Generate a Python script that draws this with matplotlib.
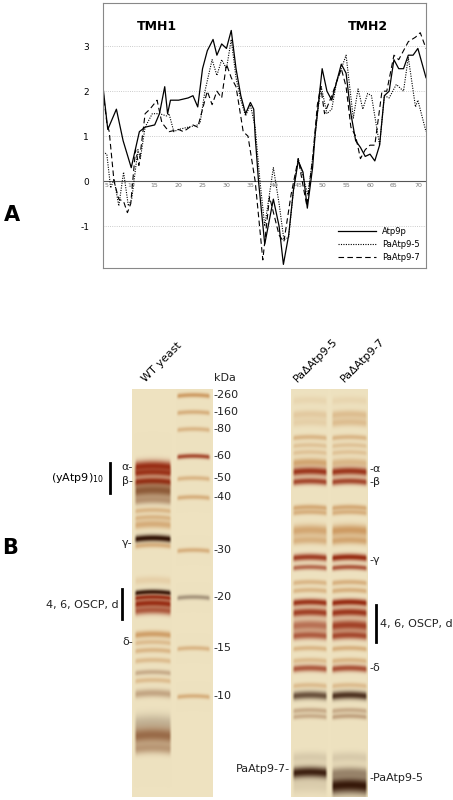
import numpy as np
import matplotlib
matplotlib.use("Agg")
import matplotlib.pyplot as plt

# ---------------- Panel A data (hydropathy) ----------------
atp9p_x = [4.2,5.2,7,8.4,10.1,11.8,13,15,16,17.1,17.7,18.3,20,22,23,24,25,26,27.2,28,29,30,31,32,33,34,35,35.7,36,36.7,38,39.8,41,41.9,43,44,45,46,46.9,48,48.5,49.5,50,51,52,53,54,55,56,57,58,59,60,61,62,63,64,65,66,67,68,69,70,71.7]
atp9p_y = [2.1,1.15,1.6,0.9,0.3,1.1,1.2,1.25,1.5,2.1,1.5,1.8,1.8,1.85,1.9,1.65,2.5,2.9,3.15,2.8,3.05,2.95,3.35,2.5,1.9,1.5,1.75,1.6,1.0,0.0,-1.4,-0.4,-1.0,-1.85,-1.2,-0.2,0.45,0.2,-0.6,0.3,1.0,2.0,2.5,2.0,1.8,2.2,2.6,2.4,1.5,0.9,0.75,0.55,0.6,0.45,0.8,1.9,2.0,2.7,2.5,2.5,2.8,2.8,2.95,2.3]
pa5_x = [4.2,5,5.8,6.5,7.5,8.5,9.5,10.2,11.5,12,13,14.5,16,17.5,18,19,20,22,24,24.5,25.5,27,28,29,30,31,32,33,34,35,36,37,38,39.8,41,42,43,44,45,46,47,48,49,49.8,51,52,53,54,55,56.5,57.5,58.5,59.5,60.3,62,63,64,65.5,67,68,69.5,70,71.7]
pa5_y = [0.65,0.6,-0.15,0.05,-0.55,0.2,-0.55,-0.4,0.7,0.5,1.2,1.5,1.5,1.45,1.5,1.1,1.15,1.2,1.25,1.3,2.0,2.7,2.35,2.7,2.5,3.15,2.3,1.8,1.45,1.7,1.2,0.0,-1.0,0.3,-0.5,-1.3,-1.25,-0.2,0.5,0.1,-0.3,0.5,1.5,2.1,1.5,1.6,2.2,2.5,2.8,1.4,2.05,1.6,1.95,1.9,0.8,1.9,1.85,2.15,2.0,2.75,1.65,1.8,1.1]
pa7_x = [4.2,5,5.5,6.5,7.5,8.5,9.3,10,11,11.7,13,14,15.5,16.5,18,20,21,23,24,25,26,27,28,29,30,31,32,33.5,34.5,36,37.6,39,41,42,43.5,45,46,46.8,48,49,49.7,50.5,52,54,55,56,57,58,59,60,61,62.5,63.5,65,66,68,69.5,70.5,71.7]
pa7_y = [2.0,1.3,1.1,0.0,-0.4,-0.45,-0.7,-0.5,0.7,0.35,1.5,1.6,1.8,1.3,1.1,1.15,1.1,1.25,1.2,1.6,2.0,1.7,2.0,1.85,2.6,2.3,2.1,1.1,1.0,0.0,-1.75,-0.35,-1.2,-1.35,-0.3,0.5,-0.1,-0.55,0.5,1.7,2.1,1.5,1.9,2.5,2.1,1.2,1.0,0.5,0.7,0.8,0.8,2.0,2.0,2.8,2.7,3.1,3.2,3.3,2.95]
x_ticks = [5,10,15,20,25,30,35,40,45,50,55,60,65,70]
y_ticks = [-1,0,1,2,3]
series_names = ["Atp9p", "PaAtp9-5", "PaAtp9-7"]

# ---------------- Panel B data (gel bands) ----------------
ladder_kda = ["260","160","80","60","50","40","30","20","15","10"]
ladder_y = [395,412,429,456,478,497,550,597,648,696]
ladder_str = [0.55,0.4,0.35,0.75,0.35,0.4,0.4,0.6,0.35,0.4]
wt_bands = [(466,4,0.95,'r'),(472,3,0.9,'r'),(481,3,0.95,'r'),(490,5,0.8,'b'),(500,3,0.4,'b'),
            (510,2,0.35,'o'),(517,2,0.35,'o'),(524,3,0.45,'o'),(538,2.5,1.0,'k'),(545,2,0.4,'o'),
            (580,3,0.15,'o'),(592,2,0.95,'k'),(597,2,0.9,'r'),(603,3,0.95,'r'),(610,3,0.7,'r'),
            (634,2.5,0.55,'o'),(642,2,0.3,'o'),(650,2,0.35,'o'),(660,2,0.3,'o'),(672,2,0.3,'b'),
            (680,2,0.3,'o'),(693,3,0.35,'b'),(722,6,0.35,'g'),(735,6,0.7,'b'),(748,4,0.4,'b')]
pa_bands = [(400,3,0.1,0.1,'o'),(414,3,0.2,0.3,'o'),(422,3,0.15,0.3,'o'),(437,2,0.35,0.35,'o'),
            (445,2,0.25,0.25,'o'),(452,2,0.25,0.25,'o'),(462,3,0.5,0.35,'o'),(471,3,0.9,0.9,'r'),
            (481,2.5,0.8,0.8,'r'),(507,2,0.45,0.45,'o'),(512,2,0.4,0.4,'o'),(530,4,0.5,0.6,'o'),
            (540,3,0.4,0.5,'o'),(557,2.5,0.85,0.95,'r'),(567,2,0.6,0.7,'r'),(582,2,0.35,0.4,'o'),
            (590,2,0.35,0.4,'o'),(602,2.5,0.9,0.95,'r'),(612,3,0.85,0.9,'r'),(625,4,0.6,0.85,'r'),
            (635,3,0.7,0.8,'r'),(648,2,0.35,0.4,'o'),(660,2,0.3,0.35,'o'),(668,2.5,0.7,0.75,'r'),
            (685,2,0.3,0.3,'o'),(695,3,0.7,0.85,'k'),(710,2,0.3,0.3,'b'),(716,2,0.3,0.35,'b'),
            (757,4,0.2,0.2,'g'),(772,4,0.95,0.4,'k'),(785,6,0.1,1.0,'k')]

colours = {'r': (150,40,15), 'o': (185,110,40), 'b': (120,60,25), 'k': (55,25,10), 'g': (130,110,90)}
bg = np.array([238,226,192], float)

def render(y0, y1, x0, x1, lanes):
    H = int(y1 - y0); W = int(x1 - x0)
    img = np.tile(bg, (H, W, 1))
    ys = np.arange(H) + y0 + 0.5
    xs = np.arange(W) + x0 + 0.5
    for (lx0, lx1, bands) in lanes:
        prof = np.clip((xs - lx0) / 3.0, 0, 1) * np.clip((lx1 - xs) / 3.0, 0, 1)
        mid = (lx0 + lx1) / 2
        curve = 0.004 * (xs - mid) ** 2
        for (yc, s, a, c) in bands:
            yy = ys[:, None] - (yc + curve[None, :])
            alpha = a * np.exp(-0.5 * (yy / s) ** 2) * prof[None, :]
            col = np.array(colours[c], float)
            img = img * (1 - alpha[..., None]) + col * alpha[..., None]
    return np.clip(img, 0, 255).astype(np.uint8)

fig = plt.figure(figsize=(4.53, 8.0), dpi=100)

bx = fig.add_axes([0, 0, 1, 1])
bx.set_xlim(0, 453); bx.set_ylim(800, 0); bx.axis('off')

left_gel = render(389, 797, 132, 213,
                  [(134, 172, wt_bands),
                   (176, 211, [(y, 1.8, s, 'o' if k not in (3, 7) else ('r' if k == 3 else 'g'))
                               for k, (y, s) in enumerate(zip(ladder_y, ladder_str))])])
bx.imshow(left_gel, extent=[132, 213, 797, 389], aspect='auto', zorder=1)
right_gel = render(389, 797, 291, 368,
                   [(292, 328, [(y, s, a1, c) for (y, s, a1, a2, c) in pa_bands]),
                    (331, 368, [(y, s, a2, c) for (y, s, a1, a2, c) in pa_bands])])
bx.imshow(right_gel, extent=[291, 368, 797, 389], aspect='auto', zorder=1)

tk = dict(fontsize=8, color='#222222', va='center')
bx.text(214, 378, "kDa", **tk)
for lab, y in zip(ladder_kda, ladder_y):
    bx.text(213, y, "-" + lab, **tk)
rot = dict(rotation=45, ha='left', va='bottom', fontsize=8, rotation_mode='anchor')
bx.text(147, 384, "WT yeast", **rot)
bx.text(299, 384, "PaΔAtp9-5", **rot)
bx.text(346, 384, "PaΔAtp9-7", **rot)
bx.text(104, 478, r"(yAtp9)$_{10}$", ha='right', fontsize=8, va='center')
bx.plot([110, 110], [463, 493], color='k', lw=2)
bx.text(133, 467, "α-", ha='right', **tk)
bx.text(133, 481, "β-", ha='right', **tk)
bx.text(133, 543, "γ-", ha='right', **tk)
bx.text(119, 605, "4, 6, OSCP, d", ha='right', **tk)
bx.plot([122, 122], [589, 619], color='k', lw=2)
bx.text(133, 642, "δ-", ha='right', **tk)
bx.text(369, 469, "-α", ha='left', **tk)
bx.text(369, 482, "-β", ha='left', **tk)
bx.text(369, 560, "-γ", ha='left', **tk)
bx.plot([376, 376], [605, 642], color='k', lw=2)
bx.text(380, 624, "4, 6, OSCP, d", ha='left', **tk)
bx.text(369, 668, "-δ", ha='left', **tk)
bx.text(290, 769, "PaAtp9-7-", ha='right', **tk)
bx.text(369, 778, "-PaAtp9-5", ha='left', **tk)
bx.text(12, 215, "A", fontsize=15, fontweight='bold', va='center', ha='center')
bx.text(10, 548, "B", fontsize=15, fontweight='bold', va='center', ha='center')

# ---------------- Panel A ----------------
ax = fig.add_axes([103/453, (800-268)/800, 323/453, 265/800])
ax.set_xlim(4.2, 71.7); ax.set_ylim(-1.93, 3.96)
ax.plot(atp9p_x, atp9p_y, color='black', lw=0.9, ls='-', label=series_names[0])
ax.plot(pa5_x, pa5_y, color='black', lw=0.8, ls=(0, (1, 1.2)), label=series_names[1])
ax.plot(pa7_x, pa7_y, color='black', lw=0.8, ls=(0, (5, 3)), label=series_names[2])
for y in y_ticks:
    ax.axhline(y, color='#bbbbbb' if y else '#555555', lw=0.6 if y else 0.8,
               ls=':' if y else '-', zorder=0)
ax.set_yticks(y_ticks)
ax.set_yticklabels([str(v) for v in y_ticks], fontsize=6.5)
ax.tick_params(axis='y', length=0, pad=10)
ax.set_xticks([])
for v in x_ticks:
    ax.text(v, -0.05, str(v), fontsize=4.5, color='#777777', ha='center', va='top')
for sp in ax.spines.values():
    sp.set_color('#888888'); sp.set_linewidth(0.8)
ax.text(15.5, 3.35, "TMH1", fontsize=9, fontweight='bold', ha='center')
ax.text(59.5, 3.35, "TMH2", fontsize=9, fontweight='bold', ha='center')
ax.legend(loc='lower right', fontsize=6, frameon=False, handlelength=4.5, borderaxespad=0.3)

fig.savefig("out.png", dpi=100)
